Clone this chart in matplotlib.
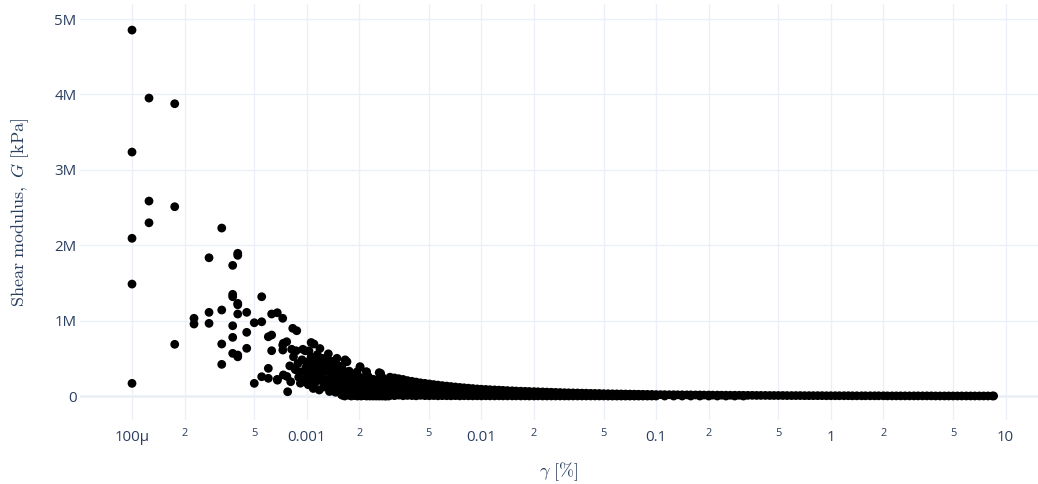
import matplotlib
matplotlib.use("Agg")
import matplotlib.pyplot as plt
from matplotlib.ticker import FixedLocator

# shear strain gamma [%] and shear modulus G [millions of kPa]
# sparse small-strain points
sparse_x = [1.0e-4, 1.251e-4, 1.756e-4, 1.0e-4, 1.251e-4, 1.756e-4, 1.251e-4, 3.263e-4,
            1.0e-4, 2.76e-4, 4.03e-4, 4.03e-4, 3.77e-4, 1.0e-4, 3.77e-4, 3.77e-4,
            5.526e-4, 4.03e-4, 4.03e-4, 2.76e-4, 3.263e-4, 4.03e-4, 4.535e-4, 2.264e-4,
            2.264e-4, 2.76e-4, 3.77e-4, 5.01e-4, 5.526e-4, 6.30e-4, 6.785e-4, 7.29e-4,
            4.535e-4, 3.77e-4, 6.03e-4, 6.30e-4, 8.32e-4, 8.77e-4, 1.756e-4, 3.263e-4,
            4.535e-4, 3.77e-4, 4.03e-4, 4.03e-4, 6.30e-4, 3.263e-4, 1.0e-4, 5.01e-4,
            5.526e-4, 6.03e-4, 6.03e-4, 6.785e-4, 7.78e-4, 7.29e-4, 7.68e-4]
sparse_g = [4.854, 3.952, 3.877, 3.236, 2.586, 2.511, 2.298, 2.228,
            2.092, 1.834, 1.893, 1.866, 1.733, 1.485, 1.349, 1.317,
            1.317, 1.229, 1.21, 1.110, 1.141, 1.088, 1.110, 1.031,
            0.955, 0.964, 0.932, 0.972, 0.985, 1.088, 1.105, 1.031,
            0.845, 0.778, 0.786, 0.809, 0.898, 0.866, 0.686, 0.690,
            0.633, 0.566, 0.544, 0.52, 0.601, 0.420, 0.168, 0.168,
            0.256, 0.235, 0.367, 0.221, 0.057, 0.676, 0.720]

# dense cloud around 0.001 %
cloud_x = [7.35e-4, 7.3e-4, 8.2e-4, 9.5e-4, 1.06e-3, 1.1e-3, 1.19e-3, 1.33e-3, 1.49e-3, 1.67e-3,
           2.02e-3, 2.2e-3, 2.65e-3, 6.8e-4, 7.35e-4, 7.7e-4, 8.4e-4, 8.9e-4, 9.2e-4, 9.6e-4,
           9.2e-4, 1.06e-3, 1.09e-3, 1.14e-3, 1.07e-3, 1.19e-3, 1.25e-3, 1.09e-3, 1.37e-3, 1.42e-3,
           1.4e-3, 1.49e-3, 1.37e-3, 1.55e-3, 1.66e-3, 1.77e-3, 1.94e-3, 1.77e-3, 1.94e-3, 1.7e-3,
           2.02e-3, 1.66e-3, 1.7e-3, 2.02e-3, 2.2e-3, 2.6e-3, 1.66e-3, 8.0e-4, 8.6e-4, 9.0e-4,
           1.0e-3, 1.0e-3, 1.02e-3, 1.15e-3, 1.2e-3, 1.22e-3, 1.28e-3, 1.3e-3, 1.32e-3, 1.35e-3,
           1.45e-3, 1.5e-3, 1.52e-3, 1.6e-3, 1.62e-3, 1.75e-3, 1.8e-3, 1.85e-3, 1.9e-3, 2.0e-3,
           2.05e-3, 2.1e-3, 2.15e-3, 2.25e-3, 2.3e-3, 2.35e-3, 2.4e-3, 2.5e-3, 2.55e-3, 2.7e-3,
           2.8e-3, 2.85e-3, 2.9e-3, 9.8e-4, 1.12e-3, 1.26e-3, 1.58e-3, 1.88e-3, 2.12e-3, 2.45e-3,
           1.03e-3, 1.08e-3, 1.13e-3, 1.17e-3, 1.24e-3, 1.27e-3, 1.31e-3, 1.34e-3, 1.39e-3, 1.44e-3,
           1.47e-3, 1.53e-3, 1.56e-3, 1.59e-3, 1.63e-3, 1.46e-3, 1.18e-3, 9.4e-4, 9.9e-4, 8.7e-4,
           8.1e-4, 1.04e-3, 1.23e-3, 1.38e-3]
cloud_g = [0.70, 0.61, 0.62, 0.62, 0.71, 0.69, 0.63, 0.56, 0.50, 0.455,
           0.38, 0.32, 0.30, 0.21, 0.28, 0.26, 0.52, 0.43, 0.32, 0.21,
           0.17, 0.52, 0.43, 0.345, 0.21, 0.21, 0.12, 0.10, 0.39, 0.30,
           0.21, 0.17, 0.12, 0.08, 0.21, 0.26, 0.32, 0.12, 0.17, 0.035,
           0.035, 0.48, 0.455, 0.39, 0.32, 0.31, 0.06, 0.40, 0.35, 0.25,
           0.45, 0.30, 0.15, 0.55, 0.40, 0.28, 0.47, 0.33, 0.22, 0.06,
           0.42, 0.27, 0.12, 0.36, 0.17, 0.33, 0.22, 0.06, 0.28, 0.11,
           0.24, 0.18, 0.06, 0.26, 0.13, 0.03, 0.22, 0.16, 0.08, 0.25,
           0.12, 0.03, 0.20, 0.60, 0.18, 0.38, 0.02, 0.14, 0.01, 0.02,
           0.60, 0.35, 0.27, 0.48, 0.36, 0.20, 0.44, 0.14, 0.46, 0.23,
           0.35, 0.40, 0.20, 0.10, 0.30, 0.05, 0.08, 0.48, 0.38, 0.60,
           0.19, 0.25, 0.50, 0.27]

# filler of the cloud between 0.0016 and 0.003 %
fill_x = [1.60e-3, 1.65e-3, 1.70e-3, 1.75e-3, 1.80e-3, 1.85e-3, 1.90e-3, 1.95e-3, 2.00e-3, 2.05e-3,
          2.10e-3, 2.15e-3, 2.20e-3, 2.25e-3, 2.30e-3, 2.35e-3, 2.40e-3, 2.45e-3, 2.50e-3, 2.55e-3,
          2.60e-3, 2.65e-3, 2.70e-3, 2.75e-3, 2.80e-3, 2.85e-3, 2.90e-3, 2.95e-3]
fill_lo = [0.01, 0.0, 0.02, 0.01, 0.0, 0.015, 0.005, 0.0, 0.01, 0.0,
           0.02, 0.005, 0.0, 0.01, 0.0, 0.005, 0.0, 0.01, 0.0, 0.005,
           0.0, 0.01, 0.0, 0.005, 0.0, 0.0, 0.005, 0.0]
fill_mid = [0.10, 0.12, 0.09, 0.11, 0.10, 0.08, 0.12, 0.10, 0.09, 0.11,
            0.10, 0.08, 0.11, 0.09, 0.10, 0.08, 0.10, 0.09, 0.11, 0.08,
            0.10, 0.09, 0.08, 0.10, 0.09, 0.08, 0.09, 0.08]
fill_hi = [0.25, 0.22, 0.27, 0.24, 0.20, 0.26, 0.23, 0.21, 0.25, 0.20,
           0.22, 0.19, 0.24, 0.20, 0.23, 0.18, 0.22, 0.19, 0.21, 0.17,
           0.20, 0.18, 0.19, 0.17, 0.18, 0.16, 0.17, 0.16]

# medium-strain band (upper to lower edge of the band)
band_x = [0.0030, 0.00318, 0.00336, 0.00356, 0.00377, 0.0040, 0.00423, 0.00448, 0.00475, 0.00503,
          0.00533, 0.00564, 0.00597, 0.00633, 0.0067, 0.0071, 0.00752, 0.00796, 0.00843, 0.00893,
          0.00946, 0.0100, 0.0106, 0.0112, 0.0119, 0.0126, 0.0133, 0.0141, 0.0150, 0.0158,
          0.0168, 0.0178, 0.0188, 0.0200, 0.0211, 0.0224, 0.0237, 0.0251, 0.0266, 0.0282,
          0.0299, 0.0316, 0.0335, 0.0355, 0.0376, 0.0398, 0.0422, 0.0447, 0.0473, 0.0501,
          0.0531, 0.0562, 0.0596, 0.0631, 0.0668, 0.0708, 0.0750, 0.0794, 0.0841, 0.0891,
          0.0944]
band_hi = [0.25, 0.24, 0.23, 0.22, 0.205, 0.195, 0.185, 0.175, 0.168, 0.16,
           0.152, 0.145, 0.138, 0.132, 0.126, 0.12, 0.114, 0.109, 0.104, 0.099,
           0.094, 0.090, 0.087, 0.084, 0.081, 0.078, 0.075, 0.072, 0.069, 0.066,
           0.064, 0.062, 0.060, 0.058, 0.056, 0.054, 0.052, 0.050, 0.048, 0.046,
           0.044, 0.042, 0.041, 0.040, 0.038, 0.037, 0.035, 0.034, 0.033, 0.031,
           0.030, 0.029, 0.028, 0.027, 0.026, 0.025, 0.024, 0.023, 0.022, 0.021,
           0.020]
band_um = [0.19, 0.18, 0.17, 0.165, 0.155, 0.145, 0.14, 0.13, 0.125, 0.12,
           0.115, 0.11, 0.105, 0.10, 0.095, 0.09, 0.085, 0.08, 0.078, 0.074,
           0.07, 0.068, 0.065, 0.063, 0.06, 0.058, 0.056, 0.054, 0.052, 0.05,
           0.048, 0.046, 0.045, 0.044, 0.042, 0.04, 0.039, 0.038, 0.036, 0.035,
           0.033, 0.032, 0.031, 0.03, 0.029, 0.028, 0.027, 0.026, 0.025, 0.024,
           0.023, 0.022, 0.022, 0.021, 0.02, 0.019, 0.018, 0.018, 0.017, 0.016,
           0.015]
band_mid = [0.13, 0.12, 0.11, 0.10, 0.095, 0.09, 0.085, 0.08, 0.075, 0.07,
            0.065, 0.06, 0.055, 0.05, 0.05, 0.045, 0.045, 0.04, 0.04, 0.035,
            0.035, 0.04, 0.035, 0.035, 0.03, 0.03, 0.03, 0.028, 0.026, 0.025,
            0.024, 0.023, 0.022, 0.021, 0.02, 0.02, 0.019, 0.018, 0.018, 0.017,
            0.016, 0.016, 0.015, 0.015, 0.014, 0.014, 0.013, 0.013, 0.012, 0.012,
            0.011, 0.011, 0.011, 0.010, 0.010, 0.010, 0.009, 0.009, 0.009, 0.008,
            0.008]
band_lm = [0.065, 0.06, 0.055, 0.05, 0.048, 0.045, 0.042, 0.04, 0.038, 0.035,
           0.032, 0.03, 0.028, 0.025, 0.025, 0.022, 0.022, 0.02, 0.02, 0.018,
           0.018]
band_lo = [0.01, 0.005, 0.012, 0.004, 0.008, 0.006, 0.003, 0.009, 0.005, 0.004,
           0.006, 0.003, 0.005, 0.004, 0.003, 0.005, 0.002, 0.004, 0.003, 0.002,
           0.003, 0.002, 0.003, 0.002, 0.002, 0.003, 0.002, 0.002, 0.002, 0.002,
           0.001, 0.002, 0.001, 0.001, 0.002, 0.001, 0.001, 0.001, 0.001, 0.001,
           0.001, 0.001, 0.001, 0.001, 0.001, 0.001, 0.001, 0.001, 0.001, 0.001,
           0.0, 0.0, 0.0, 0.0, 0.0, 0.0, 0.0, 0.0, 0.0, 0.0,
           0.0]

# large-strain tail
tail_x = [0.100, 0.106, 0.112, 0.119, 0.126, 0.133, 0.141, 0.150, 0.158, 0.168,
          0.178, 0.188, 0.200, 0.211, 0.224, 0.237, 0.251, 0.266, 0.282, 0.299,
          0.316, 0.335, 0.355, 0.376, 0.398, 0.422, 0.447, 0.473, 0.501, 0.531,
          0.562, 0.596, 0.631, 0.668, 0.708, 0.750, 0.794, 0.841, 0.891, 0.944,
          1.00, 1.06, 1.12, 1.19, 1.26, 1.33, 1.41, 1.50, 1.58, 1.68,
          1.78, 1.88, 2.00, 2.11, 2.24, 2.37, 2.51, 2.66, 2.82, 2.99,
          3.16, 3.35, 3.55, 3.76, 3.98, 4.22, 4.47, 4.73, 5.01, 5.31,
          5.62, 5.96, 6.31, 6.68, 7.08, 7.50, 7.94, 8.41, 8.55]
tail_g = [0.019, 0.018, 0.018, 0.017, 0.017, 0.016, 0.016, 0.015, 0.015, 0.014,
          0.014, 0.013, 0.013, 0.012, 0.012, 0.011, 0.011, 0.010, 0.010, 0.010,
          0.009, 0.009, 0.009, 0.008, 0.008, 0.008, 0.007, 0.007, 0.007, 0.007,
          0.006, 0.006, 0.006, 0.006, 0.005, 0.005, 0.005, 0.005, 0.005, 0.004,
          0.004, 0.004, 0.004, 0.004, 0.004, 0.003, 0.003, 0.003, 0.003, 0.003,
          0.003, 0.003, 0.003, 0.002, 0.002, 0.002, 0.002, 0.002, 0.002, 0.002,
          0.002, 0.002, 0.002, 0.002, 0.001, 0.001, 0.001, 0.001, 0.001, 0.001,
          0.001, 0.001, 0.001, 0.001, 0.001, 0.001, 0.001, 0.001, 0.001]
tail_lo_x = [0.100, 0.112, 0.126, 0.141, 0.158, 0.178, 0.200, 0.224, 0.251, 0.282, 0.316]
tail_lo_g = [0.0, 0.0, 0.0, 0.0, 0.0, 0.0, 0.0, 0.0, 0.0, 0.0, 0.0]

x_major = [1e-4, 1e-3, 1e-2, 1e-1, 1, 10]
x_major_labels = ["100µ", "0.001", "0.01", "0.1", "1", "10"]
x_minor = [2e-4, 5e-4, 2e-3, 5e-3, 2e-2, 5e-2, 0.2, 0.5, 2, 5]
x_minor_labels = ["2", "5", "2", "5", "2", "5", "2", "5", "2", "5"]
y_ticks = [0, 1, 2, 3, 4, 5]
y_tick_labels = ["0", "1M", "2M", "3M", "4M", "5M"]

text_color = "#2a3f5f"
grid_color = "#ebf0f8"
plt.rcParams["mathtext.fontset"] = "cm"

W, H = 1038, 484
fig = plt.figure(figsize=(W / 100, H / 100), dpi=100)
ax = fig.add_axes([80 / W, (H - 420) / H, (W - 80) / W, 416 / H])
ax.set_xscale("log")
ax.set_xlim(10 ** -4.2977, 10 ** 1.186)
ax.set_ylim(-0.318e6, 5.2e6)

for s in ax.spines.values():
    s.set_visible(False)

scale = 1e6
groups = [(sparse_x, sparse_g), (cloud_x, cloud_g),
          (fill_x, fill_lo), (fill_x, fill_mid), (fill_x, fill_hi),
          (band_x, band_hi), (band_x, band_um), (band_x, band_mid),
          (band_x[:len(band_lm)], band_lm), (band_x, band_lo),
          (tail_x, tail_g), (tail_lo_x, tail_lo_g)]
for gx, gy in groups:
    ax.scatter(gx, [v * scale for v in gy], s=40, color="black", edgecolors="none",
               zorder=3)

# grid
for xv in x_major + x_minor:
    ax.axvline(xv, color=grid_color, lw=1, zorder=0)
for yv in y_ticks:
    ax.axhline(yv * scale, color=grid_color, lw=2 if yv == 0 else 1, zorder=0)

ax.xaxis.set_major_locator(FixedLocator(x_major))
ax.set_xticklabels(x_major_labels)
ax.xaxis.set_minor_locator(FixedLocator(x_minor))
ax.set_xticklabels(x_minor_labels, minor=True)
ax.tick_params(axis="x", which="major", length=0, pad=7, labelsize=10.8,
               labelcolor=text_color)
ax.tick_params(axis="x", which="minor", length=0, pad=6, labelsize=7.9,
               labelcolor=text_color)
ax.set_yticks([v * scale for v in y_ticks])
ax.set_yticklabels(y_tick_labels)
ax.tick_params(axis="y", length=0, pad=2.5, labelsize=10.8, labelcolor=text_color)
for lab in ax.get_xticklabels(which="both") + ax.get_yticklabels():
    lab.set_family("Open Sans")

fig.text(20 / W, 1 - 212 / H, r"$\mathrm{Shear\ modulus,}\ G\ [\mathrm{kPa}]$",
         rotation=90, ha="center", va="center", fontsize=13, color=text_color)
fig.text(559 / W, 1 - 472 / H, r"$\gamma\ [\%]$", ha="center", va="center",
         fontsize=13, color=text_color)

fig.savefig("out.png", dpi=100)
